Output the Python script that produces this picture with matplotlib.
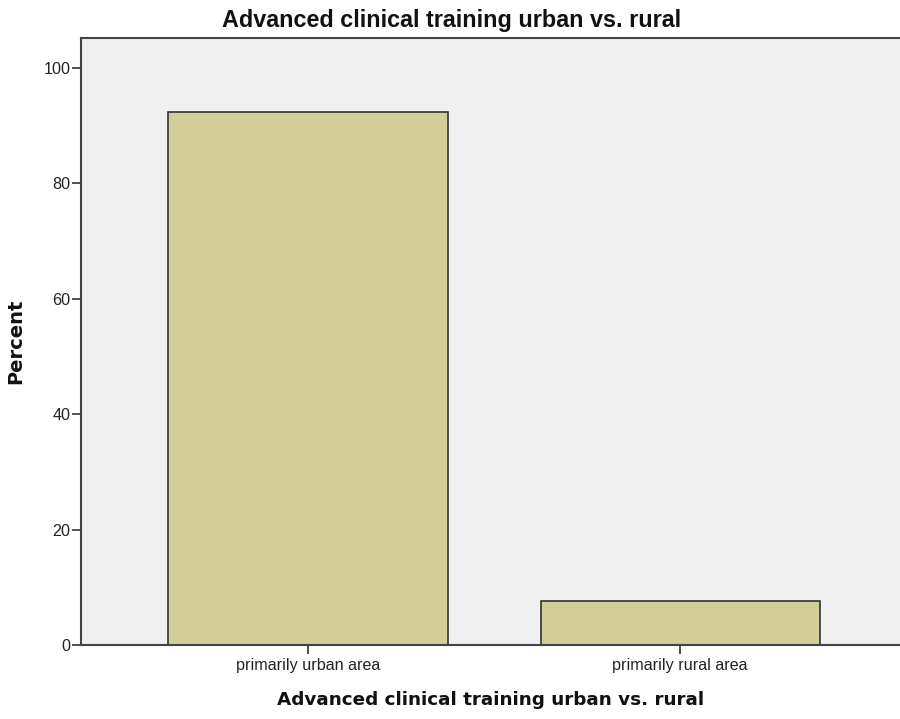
"""Recreate the SPSS-style bar chart of advanced clinical training location."""

import matplotlib
matplotlib.use('Agg')
import matplotlib.pyplot as plt

plt.rcParams['font.family'] = ['Liberation Sans', 'DejaVu Sans']

categories = ['primarily urban area', 'primarily rural area']
percents = [92.4, 7.6]
y_ticks = [0, 20, 40, 60, 80, 100]


def main():
    fig = plt.figure(figsize=(9, 7.19), dpi=100)
    ax = fig.add_axes([0.09, 0.1029, 0.91, 0.8442])
    ax.set_facecolor('#f0f0f0')

    ax.bar(range(len(categories)), percents, width=0.75,
           color='#d3ce98', edgecolor='#333333', linewidth=1.2, zorder=2)

    ax.set_xlim(-0.61, 1.591)
    ax.set_ylim(0, 105.2)
    ax.set_yticks(y_ticks)
    ax.set_xticks(range(len(categories)))
    ax.set_xticklabels(categories)

    ax.tick_params(axis='both', direction='out', length=6.5, width=1.2,
                   color='#333333', labelsize=11.6, labelcolor='#222222')
    ax.tick_params(axis='y', pad=1)
    ax.tick_params(axis='x', pad=3)

    for side in ['left', 'top', 'bottom']:
        ax.spines[side].set_color('#444444')
        ax.spines[side].set_linewidth(1.5)
    ax.spines['right'].set_visible(False)

    fig.text(0.502, 0.971, 'Advanced clinical training urban vs. rural',
             ha='center', va='center', fontsize=16.8, fontweight='bold',
             color='#111111')
    ax.set_xlabel('Advanced clinical training urban vs. rural',
                  fontsize=13.2, fontweight='bold', labelpad=13,
                  color='#111111', family='DejaVu Sans')
    ax.set_ylabel('Percent', fontsize=14, fontweight='bold',
                  labelpad=13, color='#111111', family='DejaVu Sans')

    fig.savefig('out.png', dpi=100)


if __name__ == '__main__':
    main()
